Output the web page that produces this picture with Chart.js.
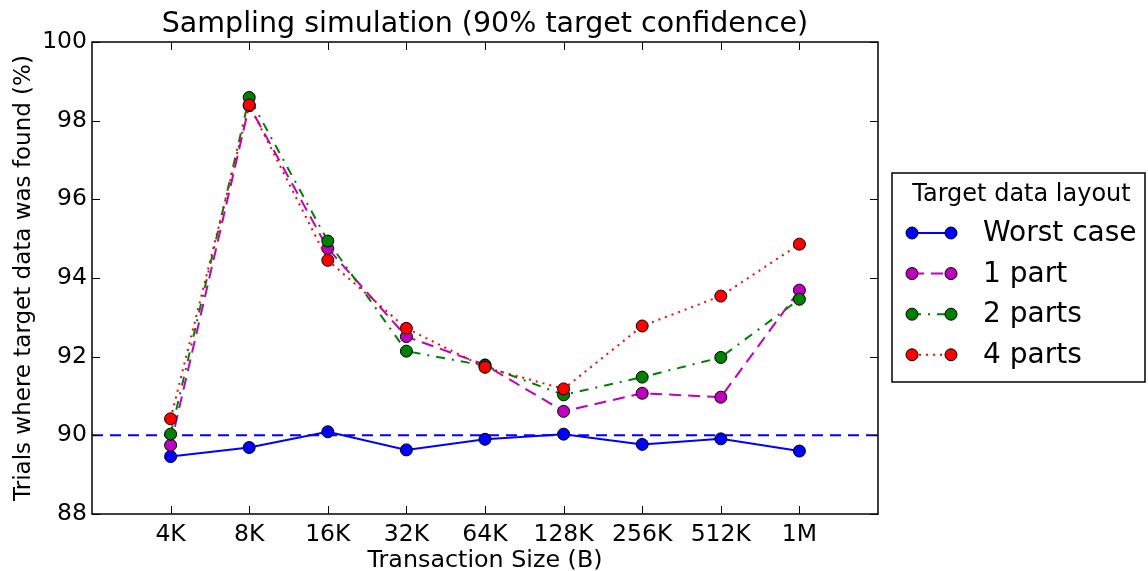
<!DOCTYPE html>
<html>
<head>
<meta charset="utf-8">
<script src="https://cdn.jsdelivr.net/npm/chart.js@4.4.1/dist/chart.umd.min.js"></script>
<style>
  html, body { margin: 0; padding: 0; background: #fff; }
  #wrap { width: 1148px; height: 571px; }
</style>
</head>
<body>
<div id="wrap"><canvas id="chart" width="1148" height="571"></canvas></div>
<script>
// data
const xLabels = ["4K", "8K", "16K", "32K", "64K", "128K", "256K", "512K", "1M"];
const worstCase = [89.46, 89.69, 90.09, 89.63, 89.90, 90.03, 89.77, 89.91, 89.60];
const onePart   = [89.75, 98.38, 94.75, 92.51, 91.79, 90.61, 91.07, 90.97, 93.69];
const twoParts  = [90.03, 98.59, 94.94, 92.14, 91.77, 91.03, 91.48, 91.98, 93.46];
const fourParts = [90.42, 98.40, 94.45, 92.72, 91.73, 91.18, 92.78, 93.54, 94.86];
const targetLevel = 90;
const yTicks = [88, 90, 92, 94, 96, 98, 100];

const FONT = "'DejaVu Sans', 'Liberation Sans', sans-serif";

const toPoints = arr => arr.map((v, i) => ({ x: i, y: v }));

function series(label, values, color, dash, order) {
  return {
    label,
    data: toPoints(values),
    borderColor: color,
    backgroundColor: color,
    borderWidth: 2,
    borderDash: dash,
    pointRadius: 6,
    pointHoverRadius: 6,
    pointBackgroundColor: color,
    pointBorderColor: "#000",
    pointBorderWidth: 1,
    tension: 0,
    order
  };
}

const datasets = [
  series("Worst case", worstCase, "#0000ff", [], 4),
  series("1 part", onePart, "#bf00bf", [12, 7], 3),
  series("2 parts", twoParts, "#008000", [9, 7, 2, 7], 2),
  series("4 parts", fourParts, "#ff0000", [2, 5], 1),
  {
    label: "target",
    data: [{ x: -1, y: targetLevel }, { x: xLabels.length, y: targetLevel }],
    borderColor: "#0000ff",
    borderWidth: 2,
    borderDash: [11, 7],
    pointRadius: 0,
    order: 5,
    isRef: true
  }
];

// frame, inward ticks (matplotlib style) and the legend box
const decorPlugin = {
  id: "decor",
  afterDraw(chart) {
    const ctx = chart.ctx;
    const a = chart.chartArea;
    const xs = chart.scales.x, ys = chart.scales.y;
    ctx.save();
    ctx.strokeStyle = "#000";
    ctx.lineWidth = 1;
    ctx.beginPath();
    xLabels.forEach((_, i) => {
      const px = Math.round(xs.getPixelForValue(i)) + 0.5;
      ctx.moveTo(px, a.bottom); ctx.lineTo(px, a.bottom - 8);
      ctx.moveTo(px, a.top); ctx.lineTo(px, a.top + 8);
    });
    yTicks.forEach(v => {
      const py = Math.round(ys.getPixelForValue(v)) + 0.5;
      ctx.moveTo(a.left, py); ctx.lineTo(a.left + 8, py);
      ctx.moveTo(a.right, py); ctx.lineTo(a.right - 8, py);
    });
    ctx.stroke();
    ctx.lineWidth = 1.5;
    ctx.strokeRect(a.left, a.top, a.right - a.left, a.bottom - a.top);

    // legend
    const bx = a.right + 14, by = 173, bw = 253, bh = 209;
    ctx.fillStyle = "#fff";
    ctx.fillRect(bx, by, bw, bh);
    ctx.strokeRect(bx, by, bw, bh);
    ctx.fillStyle = "#000";
    ctx.font = "24px " + FONT;
    ctx.textAlign = "center";
    ctx.textBaseline = "middle";
    ctx.fillText("Target data layout", bx + bw / 2 + 3, by + 22);
    ctx.font = "28px " + FONT;
    ctx.textAlign = "left";
    chart.data.datasets.filter(d => !d.isRef).forEach((d, i) => {
      const y = by + 60 + i * 40.6;
      const x1 = bx + 20, x2 = bx + 59;
      ctx.strokeStyle = d.borderColor;
      ctx.lineWidth = d.borderWidth;
      ctx.setLineDash(d.borderDash);
      ctx.beginPath();
      ctx.moveTo(x1, y); ctx.lineTo(x2, y);
      ctx.stroke();
      ctx.setLineDash([]);
      [x1, x2].forEach(x => {
        ctx.beginPath();
        ctx.arc(x, y, 6, 0, Math.PI * 2);
        ctx.fillStyle = d.pointBackgroundColor;
        ctx.fill();
        ctx.lineWidth = 1;
        ctx.strokeStyle = "#000";
        ctx.stroke();
      });
      ctx.fillStyle = "#000";
      ctx.fillText(d.label, bx + 91, y + 1);
    });
    ctx.restore();
  }
};

new Chart(document.getElementById("chart"), {
  type: "line",
  data: { datasets },
  options: {
    responsive: false,
    animation: false,
    events: [],
    layout: { padding: { left: 0, top: 0, right: 270, bottom: 0 } },
    plugins: {
      legend: { display: false },
      tooltip: { enabled: false },
      title: {
        display: true,
        text: "Sampling simulation (90% target confidence)",
        color: "#000",
        fullSize: false,
        font: { family: FONT, size: 28.5, weight: "normal", lineHeight: 1.2 },
        padding: { top: 7, bottom: 0.8 }
      }
    },
    scales: {
      x: {
        type: "linear",
        min: -1,
        max: xLabels.length,
        grid: { display: false, drawTicks: false },
        border: { display: false },
        afterFit: s => { s.height = 57; },
        afterBuildTicks: s => { s.ticks = xLabels.map((_, i) => ({ value: i })); },
        ticks: {
          autoSkip: false,
          maxRotation: 0,
          padding: 7,
          color: "#000",
          font: { family: FONT, size: 23.5 },
          callback: v => xLabels[v] ?? ""
        },
        title: {
          display: true,
          text: "Transaction Size (B)",
          color: "#000",
          font: { family: FONT, size: 23.8 },
          padding: { top: 0, bottom: -4 }
        }
      },
      y: {
        min: 88,
        max: 100,
        grid: { display: false, drawTicks: false },
        border: { display: false },
        afterFit: s => { s.width = 92; },
        afterBuildTicks: s => { s.ticks = yTicks.map(v => ({ value: v })); },
        ticks: {
          padding: 5,
          color: "#000",
          font: { family: FONT, size: 23.5 }
        },
        title: {
          display: true,
          text: "Trials where target data was found (%)",
          color: "#000",
          font: { family: FONT, size: 23 },
          padding: { top: 10, bottom: 0 }
        }
      }
    }
  },
  plugins: [decorPlugin]
});
</script>
</body>
</html>
